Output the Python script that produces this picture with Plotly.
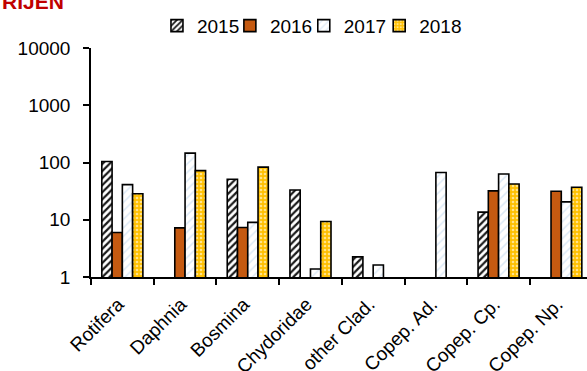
import plotly.graph_objects as go

categories = ["Rotifera", "Daphnia", "Bosmina", "Chydoridae", "other Clad.",
              "Copep. Ad.", "Copep. Cp.", "Copep. Np."]
years = ["2015", "2016", "2017", "2018"]

vals_2015 = [104, None, 51, 33, 2.25, None, 13.6, None]
vals_2016 = [6.0, 7.2, 7.3, None, None, None, 32, 31.5]
vals_2017 = [41, 146, 9.0, 1.38, 1.62, 67, 63, 20.5]
vals_2018 = [28.5, 72, 83, 9.3, None, None, 42, 37]

y_tickvals = [1, 10, 100, 1000, 10000]
y_ticktext = ["1", "10", "100", "1000", "10000"]

FONT = "Liberation Sans, Arial, sans-serif"

styles = {
    "2015": dict(color="white", pattern=dict(shape="/", fgcolor="#1a1a1a", bgcolor="white",
                                             size=5, solidity=0.45, fillmode="replace")),
    "2016": dict(color="#C55A11"),
    "2017": dict(color="white", pattern=dict(shape="/", fgcolor="#DCE9F6", bgcolor="white",
                                             size=6, solidity=0.25, fillmode="replace")),
    "2018": dict(color="#FFC000", pattern=dict(shape=".", fgcolor="#FFE38A", bgcolor="#FFC000",
                                               size=4, solidity=0.35, fillmode="replace")),
}

series = {"2015": vals_2015, "2016": vals_2016, "2017": vals_2017, "2018": vals_2018}

# one small legend box per year, laid out in a row above the plot
legend_ids = ["legend", "legend2", "legend3", "legend4"]
legend_x = [0.133, 0.280, 0.429, 0.581]

fig = go.Figure()
for yr, lid in zip(years, legend_ids):
    m = dict(styles[yr])
    m["line"] = dict(color="black", width=1.6)
    fig.add_trace(go.Bar(x=categories, y=series[yr], name=yr, marker=m, legend=lid))

legend_common = dict(orientation="h", xanchor="left", y=1.180, yanchor="top",
                     font=dict(size=19), itemwidth=30, bgcolor="rgba(0,0,0,0)")
legend_layout = {lid: dict(legend_common, x=lx) for lid, lx in zip(legend_ids, legend_x)}

fig.update_layout(
    width=587, height=371,
    margin=dict(l=91, r=0, t=48, b=94),
    paper_bgcolor="white", plot_bgcolor="white",
    barmode="group", bargap=0.345, bargroupgap=0,
    font=dict(family=FONT, size=19, color="black"),
    showlegend=True,
    xaxis=dict(range=[-0.5, 7.41], showline=True, linecolor="black", linewidth=1.5,
               ticks="outside", tickson="boundaries", ticklen=6, tickwidth=1.5,
               tickcolor="black", tickangle=-45, showgrid=False, zeroline=False,
               ticklabelstandoff=7, ticklabelshift=-4, automargin=False,
               tickfont=dict(size=19)),
    yaxis=dict(type="log", range=[0, 4], showline=True, linecolor="black", linewidth=1.5,
               ticks="outside", ticklen=6, tickwidth=1.5, tickcolor="black",
               tickmode="array", tickvals=y_tickvals, ticktext=y_ticktext,
               ticklabelstandoff=9, showgrid=False, zeroline=False, automargin=False,
               tickfont=dict(size=19)),
    annotations=[dict(text="<b>RIJEN</b>", xref="paper", yref="paper",
                      x=-0.183, y=1.145, xanchor="left", yanchor="bottom",
                      showarrow=False, font=dict(size=21, color="#C00000", family=FONT))],
    **legend_layout,
)

fig.write_html("out.html")
